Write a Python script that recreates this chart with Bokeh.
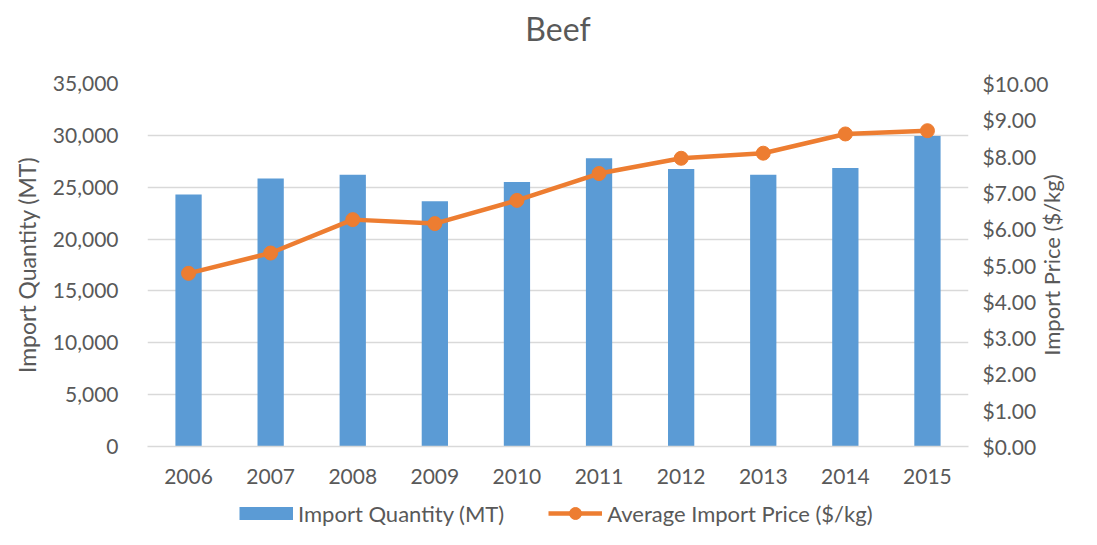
import math
from bokeh.plotting import figure
from bokeh.layouts import column
from bokeh.models import (ColumnDataSource, FactorRange, Range1d, LinearAxis, FixedTicker,
                          NumeralTickFormatter, Legend, LegendItem, Label)
from bokeh.embed import file_html
from bokeh.resources import INLINE

years = ["2006", "2007", "2008", "2009", "2010", "2011", "2012", "2013", "2014", "2015"]
import_quantity = [24300, 25850, 26200, 23650, 25500, 27800, 26750, 26200, 26850, 29950]
import_price = [4.77, 5.33, 6.25, 6.14, 6.78, 7.52, 7.94, 8.08, 8.61, 8.70]
qty_ticks = [0, 5000, 10000, 15000, 20000, 25000, 30000, 35000]
price_ticks = [0, 1, 2, 3, 4, 5, 6, 7, 8, 9, 10]

BLUE = "#5B9BD5"
ORANGE = "#ED7D31"
TEXT = "#595959"
GRID = "#D9D9D9"
FONT = "Lato"
W = 1081

def bare(fig):
    fig.axis.visible = False
    fig.grid.visible = False
    fig.outline_line_color = None
    return fig

# ---- title strip
tfig = bare(figure(width=W, height=50, x_range=Range1d(0, 1), y_range=Range1d(0, 50),
                   output_backend="svg", toolbar_location=None, min_border=0))
tfig.add_layout(Label(x=0.5, y=22, text="Beef", text_align="center", text_baseline="middle",
                      text_font=FONT, text_font_size="32px", text_color=TEXT))

# ---- main chart
src = ColumnDataSource(dict(year=years, qty=import_quantity, price=import_price))
p = figure(width=W, height=444, x_range=FactorRange(*years, range_padding=0),
           y_range=Range1d(0, 35000), output_backend="svg", toolbar_location=None,
           min_border_left=147, min_border_right=113, min_border_top=33, min_border_bottom=48)
p.extra_y_ranges = {"price": Range1d(0, 10)}
p.outline_line_color = None

p.vbar(x="year", top="qty", width=0.32, source=src, fill_color=BLUE, line_color=None)
p.line(x="year", y="price", source=src, y_range_name="price", line_color=ORANGE, line_width=4.5)
p.scatter(x="year", y="price", source=src, y_range_name="price", size=14,
          fill_color=ORANGE, line_color=ORANGE)

ya = p.yaxis[0]
ya.ticker = FixedTicker(ticks=qty_ticks)
ya.formatter = NumeralTickFormatter(format="0,0")
ya.axis_label = "Import Quantity (MT)"

ra = LinearAxis(y_range_name="price", ticker=FixedTicker(ticks=price_ticks),
                formatter=NumeralTickFormatter(format="$0.00"))
p.add_layout(ra, "right")

# right-hand title, drawn as a single rotated tick label so it reads bottom-to-top
RIGHT_TITLE_ANCHOR = 2.5
ra2 = LinearAxis(y_range_name="price", ticker=FixedTicker(ticks=[RIGHT_TITLE_ANCHOR]),
                 major_label_overrides={RIGHT_TITLE_ANCHOR: "Import Price ($/kg)"},
                 major_label_orientation=math.pi / 2)
p.add_layout(ra2, "right")

for ax in (ya, ra, ra2):
    ax.axis_line_color = None
    ax.major_tick_line_color = None
    ax.minor_tick_line_color = None
    ax.major_tick_out = 0
    ax.major_label_text_font = FONT
    ax.major_label_text_font_size = "21px"
    ax.major_label_text_color = TEXT
    ax.axis_label_text_font = FONT
    ax.axis_label_text_font_size = "23px"
    ax.axis_label_text_font_style = "normal"
    ax.axis_label_text_color = TEXT
ra2.major_label_text_font_size = "22px"
ya.major_label_standoff = 29
ya.axis_label_standoff = 9
ra.major_label_standoff = 14
ra2.major_label_standoff = 0

xa = p.xaxis[0]
xa.axis_line_color = GRID
xa.axis_line_width = 1.5
xa.major_tick_line_color = None
xa.minor_tick_line_color = None
xa.major_tick_out = 0
xa.major_label_text_font = FONT
xa.major_label_text_font_size = "21px"
xa.major_label_text_color = TEXT
xa.major_label_standoff = 22

p.xgrid.grid_line_color = None
p.ygrid.grid_line_color = GRID
p.ygrid.grid_line_width = 1.5
p.ygrid.ticker = FixedTicker(ticks=qty_ticks)

# ---- legend strip (swatch renderers sit outside the strip's visible range)
lfig = bare(figure(width=W, height=35, x_range=Range1d(0, 1), y_range=Range1d(0, 1),
                   output_backend="svg", toolbar_location=None, min_border=0))
sw_bar = lfig.line(x=[-3, -2], y=[-3, -3], line_color=BLUE, line_width=13, line_cap="butt")
sw_line = lfig.line(x=[-3, -2], y=[-3, -3], line_color=ORANGE, line_width=4.5)
sw_dot = lfig.scatter(x=[-3], y=[-3], fill_color=ORANGE, line_color=ORANGE)
legend = Legend(items=[LegendItem(label="Import Quantity (MT)", renderers=[sw_bar]),
                       LegendItem(label="Average Import Price ($/kg)", renderers=[sw_line, sw_dot])],
                orientation="horizontal", location=(92, 1), padding=0, margin=0,
                border_line_color=None, background_fill_alpha=0,
                glyph_width=54, glyph_height=30, label_standoff=5, spacing=44,
                label_text_font=FONT, label_text_font_size="22px", label_text_color=TEXT)
lfig.add_layout(legend)

layout = column(tfig, p, lfig, spacing=0)
open("out.html", "w").write(file_html(layout, INLINE))
